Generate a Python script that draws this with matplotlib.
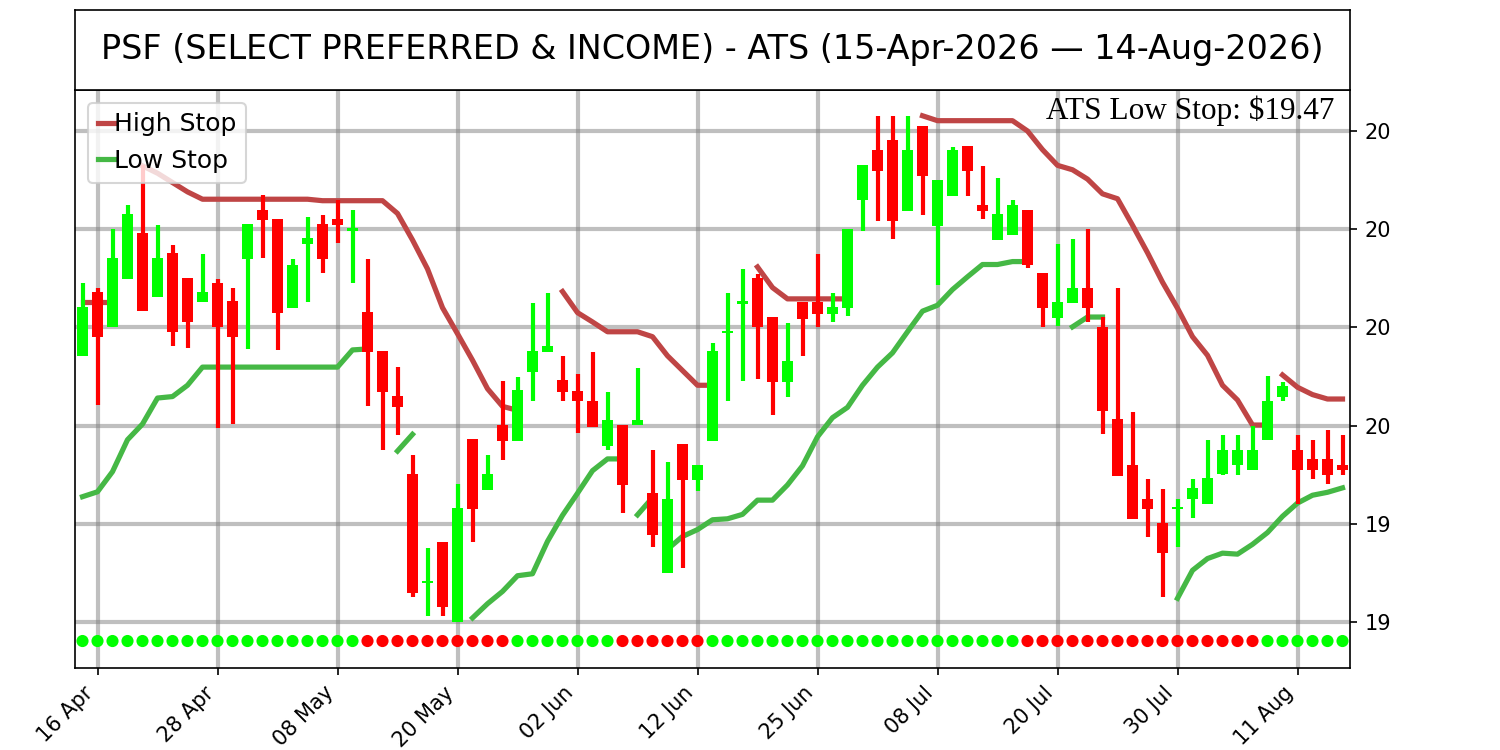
import numpy as np
import pandas as pd
import matplotlib
matplotlib.use('Agg')
import matplotlib.pyplot as plt
from matplotlib.ticker import FormatStrFormatter, MultipleLocator

ticker = 'PSF'
fund_name = 'SELECT PREFERRED & INCOME'
holidays = ['2026-05-25', '2026-06-19', '2026-07-03']
dates = pd.bdate_range('2026-04-15', '2026-08-14', freq='C', holidays=holidays)

opens = [19.741, 19.873, 19.800, 19.899, 19.992, 19.861, 19.952, 19.901, 19.851, 19.891,
         19.853, 19.939, 20.040, 20.020, 19.840, 19.970, 20.011, 20.020, 19.997, 19.831,
         19.752, 19.661, 19.501, 19.279, 19.362, 19.200, 19.572, 19.469, 19.601, 19.569,
         19.709, 19.750, 19.692, 19.671, 19.650, 19.558, 19.601, 19.601, 19.463, 19.299,
         19.562, 19.490, 19.569, 19.788, 19.848, 19.901, 19.821, 19.689, 19.852, 19.852,
         19.828, 19.839, 20.059, 20.161, 20.181, 20.036, 20.210, 20.007, 20.068, 20.170,
         20.050, 19.978, 19.989, 20.040, 19.910, 19.819, 19.849, 19.881, 19.800, 19.613,
         19.520, 19.451, 19.402, 19.430, 19.451, 19.440, 19.502, 19.520, 19.509, 19.571,
         19.659, 19.550, 19.532, 19.532, 19.520]
highs = [19.890, 19.881, 20.000, 20.049, 20.130, 20.008, 19.968, 19.901, 19.949, 19.899,
         19.881, 20.011, 20.069, 20.020, 19.939, 20.025, 20.029, 20.059, 20.039, 19.940,
         19.752, 19.720, 19.540, 19.351, 19.362, 19.481, 19.572, 19.540, 19.691, 19.699,
         19.850, 19.870, 19.741, 19.704, 19.750, 19.669, 19.601, 19.718, 19.550, 19.526,
         19.562, 19.520, 19.768, 19.870, 19.918, 19.909, 19.821, 19.809, 19.852, 19.950,
         19.870, 20.000, 20.131, 20.230, 20.230, 20.230, 20.210, 20.101, 20.168, 20.170,
         20.129, 20.104, 20.060, 20.040, 19.910, 19.970, 19.980, 20.000, 19.822, 19.880,
         19.628, 19.491, 19.471, 19.451, 19.491, 19.571, 19.580, 19.580, 19.600, 19.700,
         19.689, 19.580, 19.571, 19.590, 19.580]
lows = [19.741, 19.642, 19.800, 19.899, 19.834, 19.861, 19.762, 19.758, 19.851, 19.595,
        19.604, 19.755, 19.941, 19.753, 19.840, 19.852, 19.910, 19.972, 19.890, 19.640,
        19.550, 19.581, 19.251, 19.212, 19.212, 19.200, 19.362, 19.469, 19.530, 19.569,
        19.650, 19.750, 19.650, 19.584, 19.598, 19.550, 19.421, 19.601, 19.352, 19.299,
        19.310, 19.466, 19.569, 19.650, 19.690, 19.695, 19.622, 19.659, 19.741, 19.800,
        19.810, 19.823, 19.997, 20.017, 19.980, 20.036, 20.029, 19.886, 20.068, 20.068,
        20.020, 19.978, 19.989, 19.920, 19.800, 19.802, 19.849, 19.811, 19.582, 19.498,
        19.409, 19.373, 19.250, 19.352, 19.412, 19.440, 19.500, 19.500, 19.509, 19.571,
        19.650, 19.440, 19.491, 19.481, 19.500]
closes = [19.842, 19.780, 19.941, 20.031, 19.834, 19.941, 19.790, 19.810, 19.873, 19.800,
          19.780, 20.011, 20.018, 19.830, 19.927, 19.982, 19.939, 20.008, 20.003, 19.750,
          19.669, 19.638, 19.259, 19.284, 19.230, 19.431, 19.429, 19.501, 19.569, 19.672,
          19.752, 19.762, 19.668, 19.650, 19.598, 19.612, 19.479, 19.612, 19.378, 19.451,
          19.490, 19.520, 19.752, 19.793, 19.853, 19.800, 19.689, 19.731, 19.818, 19.828,
          19.841, 20.000, 20.131, 20.119, 20.017, 20.161, 20.109, 20.101, 20.161, 20.119,
          20.038, 20.030, 20.050, 19.928, 19.839, 19.851, 19.881, 19.839, 19.629, 19.498,
          19.409, 19.429, 19.340, 19.434, 19.472, 19.493, 19.550, 19.550, 19.550, 19.650,
          19.680, 19.509, 19.509, 19.500, 19.509]

nan = np.nan
high_stop = [19.851, 19.851, 19.851, nan, 20.129, 20.114, 20.095, 20.076, 20.061, 20.061,
             20.061, 20.061, 20.061, 20.061, 20.061, 20.061, 20.058, 20.058, 20.058, 20.058,
             20.058, 20.032, 19.978, 19.919, 19.840, 19.787, 19.733, 19.675, 19.639, 19.631,
             nan, nan, 19.873, 19.830, 19.811, 19.791, 19.791, 19.791, 19.781, 19.742,
             19.712, 19.682, 19.682, nan, nan, 19.923, 19.881, 19.858, 19.858, 19.858,
             19.858, 19.858, nan, nan, nan, nan, 20.231, 20.221, 20.221, 20.221,
             20.221, 20.221, 20.221, 20.200, 20.162, 20.130, 20.121, 20.102, 20.072, 20.062,
             20.008, 19.952, 19.892, 19.839, 19.781, 19.743, 19.682, 19.652, 19.601, 19.601,
             19.703, 19.678, 19.663, 19.654, 19.654]
low_stop = [19.455, 19.465, 19.506, 19.571, 19.603, 19.656, 19.659, 19.682, 19.719, 19.719,
            19.719, 19.719, 19.719, 19.719, 19.719, 19.719, 19.719, 19.719, 19.754, 19.756,
            nan, 19.548, 19.582, nan, nan, nan, 19.208, 19.237, 19.262, 19.294,
            19.298, 19.364, 19.417, 19.462, 19.508, 19.532, 19.532, 19.418, 19.453, 19.348,
            19.374, 19.388, 19.408, 19.410, 19.419, 19.448, 19.448, 19.479, 19.518, 19.577,
            19.616, 19.637, 19.682, 19.719, 19.748, 19.791, 19.833, 19.845, 19.877, 19.903,
            19.928, 19.928, 19.934, 19.934, nan, nan, 19.801, 19.821, 19.821, nan,
            nan, nan, nan, 19.248, 19.305, 19.329, 19.340, 19.338, 19.358, 19.382,
            19.415, 19.442, 19.458, 19.464, 19.473]
# bars where a new stop segment starts right after the previous one
high_stop_breaks = [80]
low_stop_breaks = [37, 39]

# trend dots along the bottom, G = up, R = down
signal = ('GGGGGGGGGGGGGGGGGGGRRRRRRRRRRGGGGGGGRRRRRRGGGGGGGGGGGGGGGGGGGGG'
          'RRRRRRRRRRRRRRRRGGGGGG')

x = np.arange(len(dates))
o = np.array(opens)
c = np.array(closes)
up = c >= o


def stop_segments(vals, breaks):
    vals = np.array(vals, dtype=float)
    segs, cur = [], []
    for i, v in enumerate(vals):
        if np.isnan(v) or i in breaks:
            if cur:
                segs.append(cur)
            cur = []
        if not np.isnan(v):
            cur.append(i)
    if cur:
        segs.append(cur)
    return vals, segs


fig = plt.figure(figsize=(10, 5), dpi=150)
ax = fig.add_axes([0.05, 0.1093, 0.85, 0.7707])
tax = fig.add_axes([0.05, 0.88, 0.85, 0.1067])
tax.set_xticks([])
tax.set_yticks([])
tax.text(0.5, 0.5, f'{ticker} ({fund_name}) - ATS ({dates[0]:%d-%b-%Y} \u2014 {dates[-1]:%d-%b-%Y})',
         ha='center', va='center', fontsize=16, transform=tax.transAxes)

# stops
hs, hsegs = stop_segments(high_stop, high_stop_breaks)
for k, seg in enumerate(hsegs):
    ax.plot(seg, hs[seg], color='#bf4545', lw=2.5, zorder=2,
            label='High Stop' if k == 0 else None)
ls, lsegs = stop_segments(low_stop, low_stop_breaks)
for k, seg in enumerate(lsegs):
    ax.plot(seg, ls[seg], color='#45b845', lw=2.5, zorder=2,
            label='Low Stop' if k == 0 else None)

# candles
cols = np.where(up, '#00ff00', '#ff0000')
ax.vlines(x, lows, highs, colors=cols, lw=2, zorder=3)
body_lo = np.minimum(o, c)
body_h = np.maximum(np.abs(c - o), 0.004)
ax.bar(x, body_h, bottom=body_lo, width=0.72, color=cols, zorder=4)

# trend dots
dot_y = 19.161
dot_cols = ['#00ff00' if s == 'G' else '#ff0000' for s in signal]
ax.scatter(x, np.full(len(x), dot_y), c=dot_cols, s=34, zorder=4, linewidths=0)

ax.set_xlim(-0.5, len(x) - 0.5)
ax.set_ylim(19.106, 20.2835)
ax.yaxis.tick_right()
ax.yaxis.set_major_locator(MultipleLocator(0.2))
ax.yaxis.set_major_formatter(FormatStrFormatter('%.0f'))
tick_pos = x[1::8]
ax.set_xticks(tick_pos)
ax.set_xticklabels([d.strftime('%d %b') for d in dates[1::8]], rotation=45, ha='right')
ax.grid(True, color='gray', alpha=0.5, lw=2)
ax.set_axisbelow(True)

ax.text(0.988, 0.99, f'ATS Low Stop: ${low_stop[-1]:.2f}', transform=ax.transAxes,
        ha='right', va='top', fontsize=15, family='Liberation Serif')
ax.legend(loc='upper left', fontsize=12, handlelength=0.7, handletextpad=-0.05)

fig.savefig('out.png', dpi=150)
